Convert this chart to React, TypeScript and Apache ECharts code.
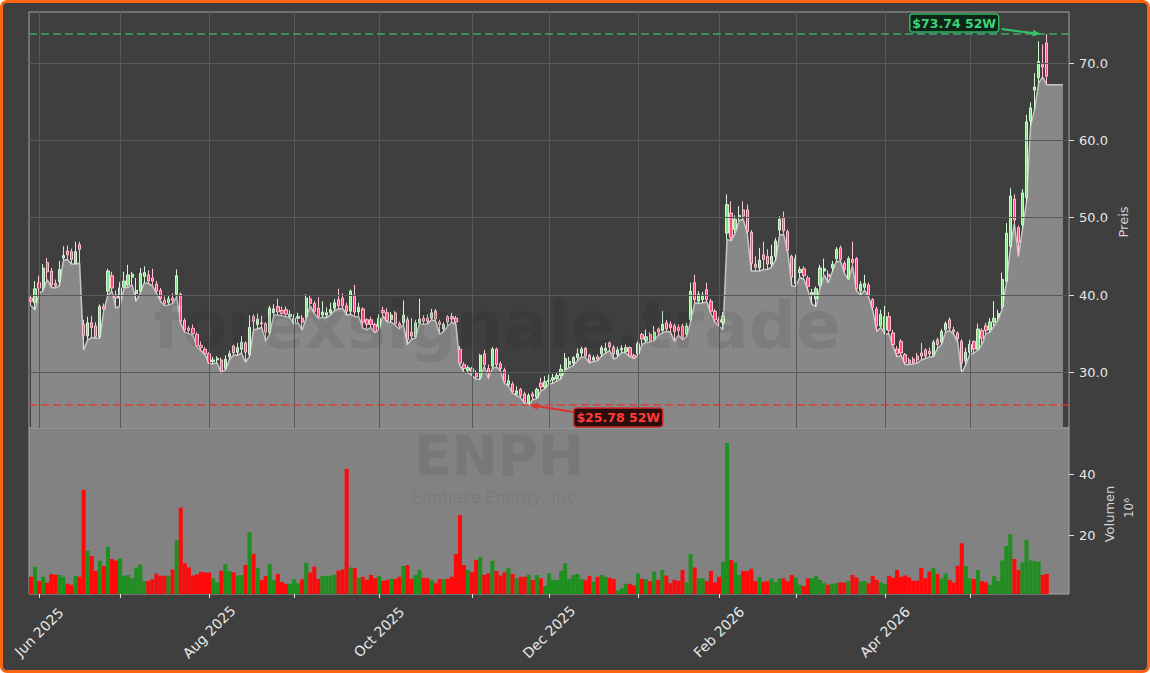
import React, { useEffect, useRef } from "react";
import * as echarts from "echarts";

// ---------- categories (NYSE trading days) ----------
const HOLIDAYS = [
  "2025-06-19", "2025-07-04", "2025-09-01", "2025-11-27", "2025-12-25",
  "2026-01-01", "2026-01-19", "2026-02-16", "2026-04-03", "2026-05-25",
];
const START = "2025-05-29";
const END = "2026-05-29";
function tradingDays(start: string, end: string): string[] {
  const out: string[] = [];
  const d = new Date(start + "T00:00:00Z");
  const e = new Date(end + "T00:00:00Z");
  while (d <= e) {
    const wd = d.getUTCDay();
    const s = d.toISOString().slice(0, 10);
    if (wd !== 0 && wd !== 6 && HOLIDAYS.indexOf(s) < 0) out.push(s);
    d.setUTCDate(d.getUTCDate() + 1);
  }
  return out;
}
const dates = tradingDays(START, END);
const PAD = 5; // empty slots right of the last candle
const TAIL = 4; // slots the low-area keeps running after the last candle

// ---------- data (USD, volume in millions) ----------
const open = [
  39.6, 39.0, 41.6, 41.0, 44.2, 43.1, 41.5, 41.7, 44.8, 45.7,
  45.6, 44.1, 46.5, 36.2, 34.7, 36.4, 36.0, 34.6, 38.5, 40.5,
  42.5, 40.0, 39.6, 41.0, 41.3, 42.3, 40.2, 40.5, 42.4, 42.6,
  42.2, 41.4, 40.6, 39.3, 39.0, 39.6, 40.1, 40.1, 36.7, 35.7,
  35.7, 34.9, 33.5, 33.0, 32.4, 31.4, 31.6, 31.6, 30.5, 32.0,
  33.4, 32.6, 33.0, 33.8, 32.3, 37.2, 36.2, 36.4, 36.3, 35.1,
  37.7, 38.5, 38.0, 38.1, 37.2, 36.4, 37.0, 37.0, 37.3, 39.5,
  38.9, 38.3, 37.4, 37.4, 37.7, 38.3, 39.4, 39.6, 38.6, 37.9,
  40.0, 37.8, 38.2, 36.8, 36.8, 36.2, 35.9, 38.0, 37.7, 36.8,
  37.7, 36.3, 36.4, 36.8, 35.2, 34.6, 36.4, 37.0, 37.0, 37.0,
  37.9, 36.5, 35.6, 37.2, 37.2, 37.0, 33.0, 31.0, 30.2, 30.5,
  29.9, 29.3, 32.4, 30.5, 30.8, 33.0, 31.1, 30.3, 28.4, 28.5,
  27.2, 27.8, 27.2, 26.0, 27.2, 26.8, 28.6, 28.1, 28.8, 29.0,
  29.2, 29.6, 30.5, 31.0, 31.2, 31.9, 32.5, 33.1, 32.2, 31.6,
  32.0, 32.4, 32.8, 33.8, 33.2, 32.3, 32.9, 32.7, 33.2, 32.2,
  32.4, 34.9, 34.1, 34.9, 34.3, 35.6, 35.4, 36.4, 36.2, 36.0,
  35.8, 36.0, 34.9, 36.8, 41.6, 39.2, 39.4, 40.7, 39.2, 37.9,
  36.8, 36.4, 48.0, 50.6, 48.5, 50.0, 51.0, 51.0, 48.1, 44.0,
  43.5, 45.2, 45.0, 44.0, 45.0, 48.4, 50.0, 48.2, 45.0, 41.5,
  42.9, 43.4, 42.2, 40.1, 39.5, 41.3, 43.1, 42.7, 43.5, 44.7,
  46.1, 44.1, 42.1, 44.6, 44.7, 40.5, 41.0, 41.3, 39.4, 38.2,
  36.0, 35.5, 37.2, 35.1, 33.0, 34.0, 32.3, 31.6, 31.7, 32.1,
  32.5, 32.9, 32.7, 32.2, 34.2, 33.9, 35.5, 36.8, 35.5, 35.1,
  34.0, 31.5, 32.6, 34.0, 33.0, 35.4, 36.0, 35.5, 36.5, 37.2,
  38.5, 41.8, 46.3, 52.4, 48.7, 49.1, 52.6, 62.5, 66.5, 68.1,
  69.8, 72.6,
];
const close = [
  39.2, 40.8, 40.9, 43.5, 43.0, 41.3, 41.2, 43.3, 45.1, 45.2,
  44.6, 45.6, 45.9, 34.8, 36.4, 35.8, 34.6, 38.5, 38.2, 43.1,
  40.9, 39.6, 40.9, 41.8, 42.6, 42.7, 40.6, 42.8, 42.9, 41.8,
  41.8, 40.5, 39.5, 38.9, 39.5, 39.3, 42.5, 36.6, 35.5, 35.4,
  35.0, 33.4, 33.2, 32.4, 31.3, 31.6, 31.8, 30.1, 31.7, 32.4,
  32.5, 33.2, 33.9, 32.6, 35.8, 36.6, 36.9, 36.3, 35.2, 38.3,
  38.2, 37.8, 37.6, 37.5, 37.5, 37.0, 37.2, 36.5, 39.6, 38.9,
  37.9, 37.2, 37.8, 37.7, 38.1, 39.0, 38.6, 38.6, 37.9, 40.5,
  37.8, 38.4, 36.5, 36.2, 36.2, 35.3, 37.0, 37.7, 36.7, 37.4,
  36.3, 36.0, 37.4, 34.2, 34.7, 36.4, 36.9, 36.6, 36.6, 37.7,
  36.9, 36.2, 36.2, 36.5, 36.9, 36.5, 31.2, 30.5, 30.6, 29.9,
  29.4, 32.2, 31.0, 30.0, 33.0, 31.0, 30.5, 28.8, 28.9, 27.5,
  27.6, 27.0, 26.1, 27.0, 26.9, 27.8, 28.1, 28.8, 29.0, 29.3,
  29.6, 30.4, 31.8, 31.4, 31.9, 32.4, 33.0, 32.1, 31.4, 31.9,
  31.7, 33.2, 33.1, 33.3, 32.4, 32.9, 33.1, 33.2, 32.1, 31.9,
  33.7, 34.3, 34.6, 34.1, 35.2, 35.2, 36.2, 35.6, 35.8, 35.3,
  35.4, 34.5, 36.0, 40.5, 39.4, 40.1, 40.0, 39.4, 37.9, 36.8,
  36.5, 37.3, 51.7, 47.4, 49.8, 50.3, 50.2, 48.2, 44.1, 43.6,
  44.5, 44.6, 44.0, 45.0, 47.0, 49.8, 48.3, 45.8, 42.3, 44.7,
  43.3, 42.5, 41.1, 40.3, 40.8, 43.5, 43.4, 42.4, 44.0, 45.9,
  44.6, 43.3, 44.7, 44.2, 40.8, 41.4, 41.5, 40.0, 38.4, 36.0,
  37.5, 37.2, 35.4, 33.6, 32.4, 32.5, 31.3, 31.2, 31.3, 31.6,
  32.1, 32.1, 32.4, 33.9, 33.6, 35.3, 36.3, 35.7, 35.2, 34.3,
  31.2, 32.6, 33.6, 33.0, 35.6, 34.4, 35.4, 36.5, 37.0, 37.6,
  42.0, 48.0, 52.8, 49.7, 46.8, 53.2, 62.4, 64.2, 66.9, 70.2,
  69.5, 68.3,
];
const high = [
  40.0, 41.8, 42.5, 44.0, 44.8, 43.5, 42.0, 44.4, 46.3, 46.4,
  46.0, 46.9, 46.9, 36.8, 37.2, 37.3, 36.5, 38.8, 38.9, 43.4,
  43.0, 40.6, 41.7, 43.0, 43.9, 43.0, 42.2, 43.5, 43.7, 43.2,
  43.4, 41.8, 40.9, 39.8, 40.0, 40.2, 43.3, 40.3, 37.0, 36.0,
  36.2, 35.2, 34.0, 33.3, 32.6, 32.0, 32.1, 31.9, 32.2, 32.8,
  33.6, 33.8, 34.7, 34.0, 37.4, 37.5, 37.6, 37.3, 36.5, 38.6,
  38.8, 39.5, 38.5, 38.5, 38.0, 37.5, 37.7, 37.4, 40.1, 40.0,
  39.2, 39.7, 39.2, 38.4, 39.0, 39.5, 40.8, 40.2, 39.0, 40.7,
  41.3, 39.0, 38.4, 37.0, 37.2, 36.4, 37.5, 38.5, 38.3, 37.8,
  37.9, 36.6, 39.3, 37.2, 37.0, 36.8, 39.5, 37.4, 37.5, 38.2,
  38.2, 36.8, 36.5, 37.4, 37.7, 37.3, 33.4, 31.3, 30.9, 30.7,
  30.3, 32.4, 32.9, 31.0, 33.3, 33.2, 31.4, 30.6, 29.7, 28.8,
  28.2, 28.0, 27.5, 27.3, 27.5, 28.0, 29.3, 29.5, 29.7, 29.8,
  30.0, 31.0, 32.5, 32.0, 32.1, 33.1, 33.3, 33.3, 32.4, 32.2,
  32.3, 33.5, 33.8, 34.0, 33.5, 33.3, 33.5, 33.6, 33.4, 32.4,
  34.0, 35.1, 35.5, 35.2, 36.0, 35.8, 37.9, 36.8, 36.6, 36.3,
  36.2, 36.3, 36.4, 41.6, 42.6, 40.5, 40.4, 41.6, 39.5, 38.2,
  37.2, 37.8, 53.0, 52.1, 50.3, 51.5, 52.1, 51.7, 48.4, 45.0,
  46.1, 46.9, 45.9, 46.5, 47.4, 50.2, 50.8, 48.5, 45.2, 45.2,
  43.7, 43.7, 42.5, 40.8, 41.1, 43.9, 44.7, 43.2, 44.4, 46.2,
  46.4, 44.4, 45.0, 46.9, 44.9, 41.8, 42.6, 41.6, 39.6, 38.5,
  38.1, 38.6, 37.8, 35.5, 33.4, 34.3, 32.5, 31.9, 32.0, 32.5,
  33.8, 33.1, 33.2, 34.2, 34.5, 35.6, 36.6, 37.1, 35.9, 35.3,
  34.3, 33.2, 34.2, 34.1, 36.3, 35.7, 36.4, 37.0, 39.2, 38.1,
  42.9, 49.3, 53.8, 53.0, 49.0, 53.7, 63.3, 64.9, 68.7, 72.8,
  72.4, 73.74,
];
const low = [
  38.6, 38.1, 40.2, 40.6, 42.0, 41.0, 40.9, 41.2, 44.5, 44.6,
  44.0, 44.0, 44.1, 32.9, 34.2, 34.5, 34.4, 34.4, 38.0, 40.0,
  40.5, 38.3, 38.6, 40.9, 41.0, 41.3, 39.2, 40.3, 41.6, 41.5,
  41.2, 40.2, 39.2, 38.6, 38.7, 38.9, 39.8, 36.3, 35.2, 35.0,
  34.8, 33.3, 32.8, 32.3, 31.1, 31.1, 31.2, 29.9, 30.3, 31.6,
  32.2, 32.2, 32.5, 31.3, 32.1, 35.5, 35.6, 35.8, 34.0, 35.0,
  37.4, 37.4, 37.3, 37.2, 37.0, 36.2, 36.4, 35.5, 37.0, 38.6,
  37.6, 37.0, 37.1, 37.1, 37.4, 38.0, 38.2, 38.3, 37.4, 37.5,
  37.2, 37.2, 35.7, 35.5, 35.8, 35.1, 35.6, 37.3, 36.5, 36.5,
  36.1, 35.6, 36.2, 33.6, 34.3, 34.4, 36.3, 36.2, 36.3, 36.8,
  36.6, 34.9, 35.3, 36.0, 36.5, 36.2, 30.9, 30.0, 29.9, 29.6,
  29.1, 29.1, 30.8, 29.2, 30.5, 30.7, 30.2, 28.6, 28.2, 27.3,
  27.0, 26.7, 26.0, 25.78, 26.5, 26.6, 27.6, 27.9, 28.5, 28.6,
  28.9, 29.2, 30.3, 30.6, 30.9, 31.5, 32.0, 31.9, 31.2, 31.4,
  31.5, 32.1, 32.5, 32.8, 31.7, 32.0, 32.6, 32.5, 32.0, 31.8,
  32.2, 33.6, 33.9, 33.9, 34.1, 34.8, 35.1, 35.3, 35.2, 34.0,
  34.8, 34.2, 34.6, 36.5, 39.0, 38.9, 39.0, 39.1, 37.6, 36.5,
  36.0, 35.5, 47.2, 47.0, 48.0, 49.6, 49.8, 47.9, 43.1, 43.1,
  43.1, 43.3, 43.3, 43.6, 44.5, 47.8, 47.8, 45.5, 41.2, 41.1,
  42.3, 42.0, 40.6, 38.8, 38.5, 41.0, 42.6, 41.6, 43.0, 44.3,
  44.4, 42.8, 42.0, 43.8, 40.5, 40.0, 40.6, 39.7, 38.0, 35.3,
  35.8, 34.9, 35.0, 33.4, 32.0, 32.2, 31.0, 31.0, 31.1, 31.2,
  31.6, 31.8, 32.0, 32.0, 33.1, 33.6, 35.2, 35.4, 34.9, 33.9,
  29.9, 31.0, 32.3, 32.5, 32.9, 33.6, 35.0, 35.2, 36.0, 36.8,
  38.2, 41.5, 46.0, 49.2, 45.0, 48.5, 52.0, 61.8, 64.0, 67.4,
  68.2, 67.2,
];
const volume = [
  6.6, 9.9, 5.2, 6.6, 4.7, 7.5, 7.3, 7.2, 6.6, 4.3,
  4.0, 6.9, 6.6, 34.9, 15.0, 13.4, 8.5, 11.8, 10.1, 16.4,
  12.4, 11.9, 12.6, 6.9, 7.2, 6.1, 9.6, 10.6, 5.2, 5.2,
  5.8, 7.7, 6.9, 6.9, 6.9, 9.0, 18.6, 29.1, 11.0, 9.6,
  7.0, 7.4, 8.2, 8.0, 8.0, 6.1, 4.8, 8.6, 10.7, 8.5,
  8.1, 7.0, 7.2, 10.4, 21.2, 14.0, 9.5, 5.6, 6.9, 10.7,
  5.6, 7.5, 4.9, 4.3, 4.3, 5.8, 4.5, 5.8, 11.2, 8.0,
  9.9, 5.9, 6.9, 6.9, 6.9, 7.3, 8.6, 9.0, 41.7, 9.6,
  9.5, 6.2, 6.6, 5.6, 7.2, 6.2, 6.9, 5.3, 5.6, 5.9,
  5.9, 6.6, 10.1, 10.4, 5.9, 7.2, 8.8, 6.3, 6.1, 5.6,
  4.5, 5.9, 5.8, 5.9, 6.6, 14.0, 26.7, 10.4, 8.8, 8.1,
  12.1, 13.0, 7.2, 7.7, 11.8, 8.5, 7.0, 8.1, 9.4, 7.5,
  6.1, 6.6, 6.6, 7.2, 5.6, 7.2, 6.1, 3.6, 7.7, 5.6,
  5.6, 8.5, 11.0, 5.9, 7.2, 7.5, 5.9, 5.6, 6.9, 5.0,
  6.6, 7.2, 6.6, 6.3, 5.9, 2.1, 2.9, 4.3, 4.3, 3.8,
  7.7, 5.9, 5.8, 5.2, 8.3, 5.6, 8.8, 7.0, 4.5, 5.6,
  5.3, 8.8, 4.8, 14.0, 9.6, 6.1, 6.1, 5.2, 8.5, 4.8,
  6.6, 11.5, 50.1, 12.1, 11.3, 7.2, 8.5, 8.5, 9.2, 5.2,
  6.4, 5.0, 5.2, 6.1, 4.8, 6.1, 6.1, 5.2, 7.2, 6.4,
  4.0, 3.6, 6.1, 6.1, 6.9, 5.6, 4.5, 4.0, 4.3, 4.5,
  4.8, 4.7, 5.2, 7.2, 6.3, 5.0, 5.2, 4.5, 6.9, 5.6,
  4.8, 4.3, 6.9, 6.3, 8.8, 6.6, 7.0, 6.4, 5.3, 5.3,
  9.4, 6.1, 8.3, 9.4, 7.5, 6.1, 7.7, 5.6, 4.7, 10.2,
  17.5, 10.1, 6.1, 5.9, 8.8, 5.2, 4.8, 4.0, 6.9, 5.2,
  11.9, 16.6, 20.4, 12.4, 8.8, 11.3, 18.6, 11.9, 11.7, 11.5,
  7.2, 7.5,
];
const priceTicks = [30, 40, 50, 60, 70];
const volumeTicks = [20, 40];
const PRICE_MIN = 22.8;
const PRICE_MAX = 76.6;
const VOL_MIN = 1;
const VOL_MAX = 55;
const MONTHS = ["Jan", "Feb", "Mar", "Apr", "May", "Jun", "Jul", "Aug", "Sep", "Oct", "Nov", "Dec"];

// ---------- derived ----------
const padCats = Array.from({ length: PAD }, (_, k) => "pad" + k);
const categories = [...dates, ...padCats];
const monthStartIdx: number[] = [];
for (let i = 1; i < dates.length; i++) {
  if (dates[i].slice(0, 7) !== dates[i - 1].slice(0, 7)) monthStartIdx.push(i);
}
const labelIdx = monthStartIdx.filter((i) => Number(dates[i].slice(5, 7)) % 2 === 0);
const hi52 = Math.max(...high);
const lo52 = Math.min(...low);
const hiIdx = high.indexOf(hi52);
const loIdx = low.indexOf(lo52);
const areaData: (number | null)[] = [...low];
for (let k = 0; k < TAIL; k++) areaData.push(low[low.length - 1]);

const BG = "#3f3f3f";
const UP_FILL = "#86e086";
const UP_EDGE = "#d6f5d6";
const DN_FILL = "#ff4f7e";
const DN_EDGE = "#ffc4d2";
const VOL_UP = "#1f8f1f";
const VOL_DN = "#ff0a0a";
const TXT = "#e8e8e8";
const FONT = "DejaVu Sans";

function arrow(x1: number, y1: number, x2: number, y2: number, color: string) {
  const a = Math.atan2(y2 - y1, x2 - x1);
  const L = 8, W = 3.5;
  const bx = x2 - L * Math.cos(a), by = y2 - L * Math.sin(a);
  const px = -Math.sin(a) * W, py = Math.cos(a) * W;
  return [
    { type: "line", z: 120, shape: { x1, y1, x2: bx, y2: by }, style: { stroke: color, lineWidth: 2 } },
    { type: "polygon", z: 120, shape: { points: [[x2, y2], [bx + px, by + py], [bx - px, by - py]] }, style: { fill: color } },
  ];
}

export default function App() {
  const ref = useRef<HTMLDivElement>(null);
  useEffect(() => {
    const chart = echarts.init(ref.current!, undefined, { renderer: "svg" });
    const option: any = {
      animation: false,
      backgroundColor: "transparent",
      textStyle: { fontFamily: FONT },
      grid: [
        { left: 29, top: 12, width: 1040, height: 416, show: true, backgroundColor: "transparent", borderColor: "#a4a4a4", borderWidth: 1 },
        { left: 29, top: 428, width: 1040, height: 166, show: true, backgroundColor: "#828282", borderColor: "#a4a4a4", borderWidth: 1 },
      ],
      xAxis: [
        {
          type: "category", gridIndex: 0, data: categories, boundaryGap: true,
          axisLine: { show: false }, axisTick: { show: false }, axisLabel: { show: false }, splitLine: { show: false },
        },
        {
          type: "category", gridIndex: 1, data: categories, boundaryGap: true,
          axisLine: { show: false },
          axisTick: {
            show: true, alignWithLabel: true, length: 4,
            interval: (i: number) => monthStartIdx.indexOf(i) >= 0,
            lineStyle: { color: "#e0e0e0", width: 1 },
          },
          axisLabel: {
            show: true, rotate: 45, align: "center", verticalAlign: "middle", margin: 38,
            interval: (i: number) => labelIdx.indexOf(i) >= 0,
            formatter: (v: string) => (v.startsWith("pad") ? "" : MONTHS[Number(v.slice(5, 7)) - 1] + " " + v.slice(0, 4)),
            color: TXT, fontSize: 14, fontFamily: FONT,
          },
          splitLine: { show: false },
        },
      ],
      yAxis: [
        {
          type: "value", gridIndex: 0, position: "right", min: PRICE_MIN, max: PRICE_MAX, scale: true,
          axisLine: { show: false }, splitLine: { show: false },
          axisTick: { show: true, customValues: priceTicks, length: 5, lineStyle: { color: "#e0e0e0" } },
          axisLabel: { customValues: priceTicks, formatter: (v: number) => v.toFixed(1), color: TXT, fontSize: 13, margin: 10, fontFamily: FONT },
        },
        {
          type: "value", gridIndex: 1, position: "right", min: VOL_MIN, max: VOL_MAX, scale: true,
          axisLine: { show: false }, splitLine: { show: false },
          axisTick: { show: true, customValues: volumeTicks, length: 5, lineStyle: { color: "#e0e0e0" } },
          axisLabel: { customValues: volumeTicks, formatter: (v: number) => String(v), color: TXT, fontSize: 13, margin: 10, fontFamily: FONT },
        },
      ],
      series: [
        {
          name: "grid", type: "line", xAxisIndex: 0, yAxisIndex: 0, data: low, z: 1, silent: true,
          symbol: "none", lineStyle: { opacity: 0 },
          markLine: {
            silent: true, symbol: ["none", "none"], label: { show: false },
            lineStyle: { color: "#595959", width: 1, type: "solid" },
            emphasis: { disabled: true },
            data: [
              ...monthStartIdx.map((i) => ({ xAxis: dates[i] })),
              ...priceTicks.map((v) => ({ yAxis: v })),
            ],
          },
        },
        {
          name: "Low", type: "line", xAxisIndex: 0, yAxisIndex: 0, data: areaData, z: 2, silent: true,
          symbol: "none", lineStyle: { color: "#c6c6c6", width: 1.5 },
          areaStyle: { color: "#888888", opacity: 1, origin: "start" },
        },
        {
          name: "ENPH", type: "candlestick", xAxisIndex: 0, yAxisIndex: 0, z: 4, barWidth: 2.8,
          data: open.map((o, i) => [o, close[i], low[i], high[i]]),
          itemStyle: { color: UP_FILL, color0: DN_FILL, borderColor: UP_EDGE, borderColor0: DN_EDGE, borderWidth: 1 },
          markLine: {
            silent: true, symbol: ["none", "none"], label: { show: false },
            emphasis: { disabled: true },
            data: [
              { yAxis: hi52, lineStyle: { color: "rgba(60,179,113,0.9)", width: 1.5, type: [8, 4] } },
              { yAxis: lo52, lineStyle: { color: "rgba(225,55,50,0.9)", width: 1.5, type: [8, 4] } },
            ],
          },
        },
        {
          name: "Volumen", type: "bar", xAxisIndex: 1, yAxisIndex: 1, barWidth: "100%", z: 3,
          data: volume.map((v, i) => ({ value: v, itemStyle: { color: close[i] >= open[i] ? VOL_UP : VOL_DN } })),
        },
      ],
    };
    chart.setOption(option);

    const hiPt = chart.convertToPixel({ xAxisIndex: 0, yAxisIndex: 0 }, [hiIdx, hi52]) as number[];
    const loPt = chart.convertToPixel({ xAxisIndex: 0, yAxisIndex: 0 }, [loIdx, lo52]) as number[];
    const hiTip = [hiPt[0] - 6, hiPt[1]];
    const loTip = [loPt[0] + 1, loPt[1]];
    const hiBox = { x: hiTip[0] - 131, y: hiTip[1] - 20, w: 89, h: 18 };
    const loBox = { x: loTip[0] + 44, y: loTip[1] + 3, w: 89, h: 19 };
    const GREEN = "#3fd27a";
    const RED = "#ff3b3b";
    const wm = "rgba(0,0,0,0.075)";
    const graphic: any[] = [
      { type: "text", z: 50, silent: true, x: 497, y: 325, style: { text: "forexsignale.trade", fill: wm, fontSize: 66, fontWeight: "bold", fontFamily: FONT, align: "center", verticalAlign: "middle" } },
      { type: "text", z: 50, silent: true, x: 499, y: 456, style: { text: "ENPH", fill: wm, fontSize: 55, fontWeight: "bold", fontFamily: FONT, align: "center", verticalAlign: "middle" } },
      { type: "text", z: 50, silent: true, x: 496, y: 497, style: { text: "Enphase Energy, Inc.", fill: wm, fontSize: 16, fontFamily: FONT, align: "center", verticalAlign: "middle" } },
      { type: "text", z: 50, silent: true, x: 1123, y: 222, rotation: Math.PI / 2, style: { text: "Preis", fill: "#d4d4d4", fontSize: 13, fontFamily: FONT, align: "center", verticalAlign: "middle" } },
      { type: "text", z: 50, silent: true, x: 1109, y: 514, rotation: Math.PI / 2, style: { text: "Volumen", fill: "#d4d4d4", fontSize: 13, fontFamily: FONT, align: "center", verticalAlign: "middle" } },
      { type: "text", z: 50, silent: true, x: 1129, y: 508, rotation: Math.PI / 2, style: { text: "10\u2076", fill: "#d4d4d4", fontSize: 12, fontFamily: FONT, align: "center", verticalAlign: "middle" } },
      ...arrow(hiBox.x + hiBox.w + 3, hiBox.y + 15, hiTip[0], hiTip[1], "#35c46a"),
      { type: "rect", z: 121, shape: { x: hiBox.x, y: hiBox.y, width: hiBox.w, height: hiBox.h, r: 3 }, style: { fill: "#0e2417", stroke: "#2fb463", lineWidth: 1.5 } },
      { type: "text", z: 122, x: hiBox.x + hiBox.w / 2, y: hiBox.y + hiBox.h / 2 + 0.5, style: { text: "$" + hi52.toFixed(2) + " 52W", fill: GREEN, fontSize: 12.5, fontWeight: "bold", fontFamily: FONT, align: "center", verticalAlign: "middle" } },
      ...arrow(loBox.x, loBox.y + 4, loTip[0], loTip[1], "#e03030"),
      { type: "rect", z: 121, shape: { x: loBox.x, y: loBox.y, width: loBox.w, height: loBox.h, r: 3 }, style: { fill: "#2c0d0d", stroke: "#d02c2c", lineWidth: 1.5 } },
      { type: "text", z: 122, x: loBox.x + loBox.w / 2, y: loBox.y + loBox.h / 2 + 0.5, style: { text: "$" + lo52.toFixed(2) + " 52W", fill: RED, fontSize: 12.5, fontWeight: "bold", fontFamily: FONT, align: "center", verticalAlign: "middle" } },
    ];
    chart.setOption({ graphic });
    return () => chart.dispose();
  }, []);

  return (
    <div
      style={{
        position: "fixed", left: 0, top: 0, width: 1150, height: 673, boxSizing: "border-box",
        border: "3px solid #ff6410", borderRadius: 7, background: BG, overflow: "hidden",
      }}
    >
      <div ref={ref} style={{ position: "absolute", left: -3, top: -3, width: 1150, height: 673 }} />
    </div>
  );
}
